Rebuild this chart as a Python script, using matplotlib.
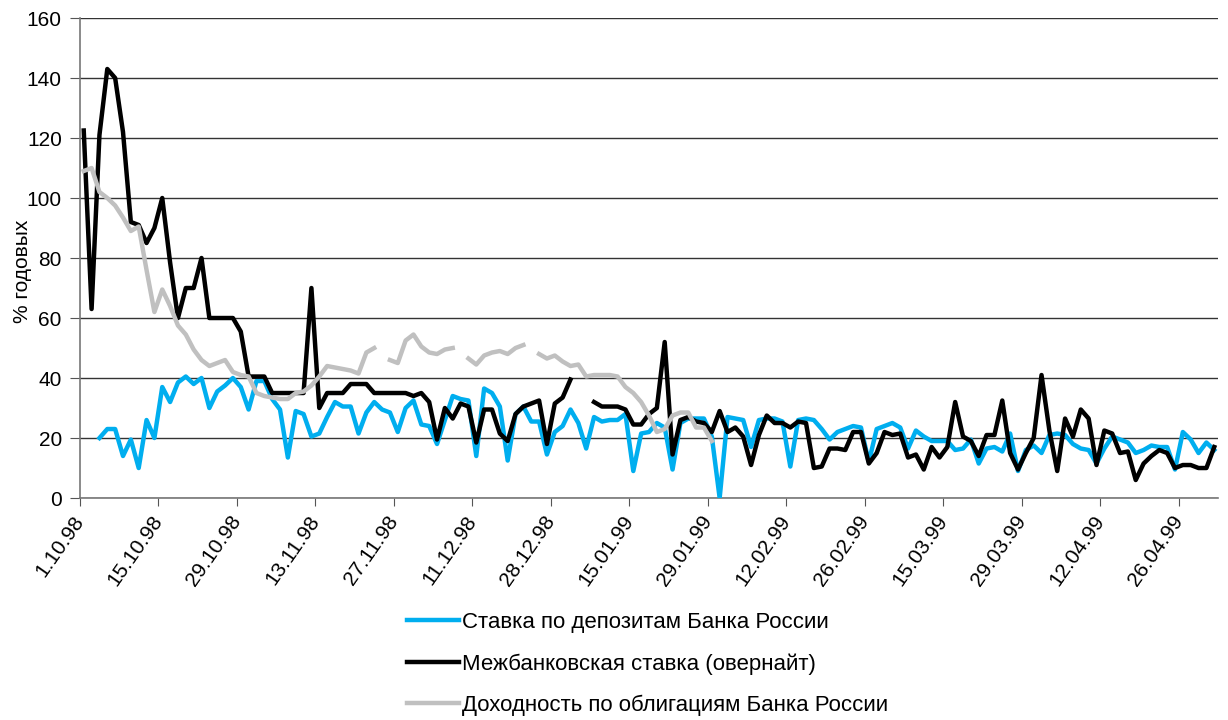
import numpy as np
import matplotlib
matplotlib.use('Agg')
import matplotlib.pyplot as plt

nan = np.nan

date_labels = ['1.10.98', '15.10.98', '29.10.98', '13.11.98', '27.11.98',
               '11.12.98', '28.12.98', '15.01.99', '29.01.99', '12.02.99',
               '26.02.99', '15.03.99', '29.03.99', '12.04.99', '26.04.99']

# ставка по депозитам Банка России
deposit = [nan, nan, 20, 23, 23, 14, 19.5, 10, 26, 20,
           37, 32, 38.5, 40.5, 38, 40, 30, 35.5, 37.5, 40,
           37, 29.5, 39, 39, 33, 29.5, 13.5, 29, 28, 20.5,
           21.5, 27, 32, 30.5, 30.5, 21.5, 28.5, 32, 29.5, 28.5,
           22, 30, 32.5, 24.5, 24, 18, 26, 34, 33, 32.5,
           14, 36.5, 35, 30.5, 12.5, 28, 30.5, 25.5, 25.5, 14.5,
           22, 24, 29.5, 25, 16.5, 27, 25.5, 26, 26, 28,
           9, 21.5, 22, 25, 23.5, 9.5, 25, 26.5, 26.5, 26.5,
           20.5, 0, 27, 26.5, 26, 17, 26, 26.5, 26.5, 25.5,
           10.5, 26, 26.5, 26, 23, 19.5, 22, 23, 24, 23.5,
           12, 23, 24, 25, 23.5, 16.5, 22.5, 20.5, 19, 19,
           19, 16, 16.5, 19.5, 11.5, 16.5, 17, 15.5, 21.5, 9,
           16, 17.5, 15, 21, 21.5, 21, 18, 16.5, 16, 11.5,
           16.5, 20.5, 19.5, 18.5, 15, 16, 17.5, 17, 17, 9.5,
           22, 19.5, 15, 18.5, 16]

# межбанковская ставка (овернайт)
overnight = [122.5, 63, 121, 143, 140, 122, 92, 91, 85, 90,
             100, 78.5, 60, 70, 70, 80, 60, 60, 60, 60,
             55.5, 40.5, 40.5, 40.5, 35, 35, 35, 35, 35, 70,
             30, 35, 35, 35, 38, 38, 38, 35, 35, 35,
             35, 35, 34, 35, 32, 19.5, 30, 26.5, 31.5, 30.5,
             18.5, 29.5, 29.5, 21.5, 19, 28, 30.5, 31.5, 32.5, 18,
             31.5, 33.5, 39.5, nan, nan, 32, 30.5, 30.5, 30.5, 29.5,
             24.5, 24.5, 28, 30, 52, 14.5, 26, 27, 25.5, 25,
             22, 29, 22, 23.5, 20.5, 11, 21, 27.5, 25, 25,
             23.5, 25.5, 25, 10, 10.5, 16.5, 16.5, 16, 22, 22,
             11.5, 15, 22, 21, 21.5, 13.5, 14.5, 9.5, 17, 13.5,
             17, 32, 20.5, 19, 14, 21, 21, 32.5, 15, 9.5,
             15, 20, 41, 22.5, 9, 26.5, 20.5, 29.5, 26.5, 11,
             22.5, 21.5, 15, 15.5, 6, 11.5, 14, 16, 15, 10,
             11, 11, 10, 10, 17]

# доходность по облигациям Банка России
bonds = [109, 110, 102, 100, 97.5, 93.5, 89, 90.5, 76, 62,
         69.5, 64, 57.5, 54.5, 49.5, 46, 44, 45, 46, 42,
         41, 40.5, 35, 34, 33.5, 33, 33, 35, 35.5, 37.5,
         40.5, 44, 43.5, 43, 42.5, 41.5, 48.5, 50, nan, 46,
         45, 52.5, 54.5, 50.5, 48.5, 48, 49.5, 50, nan, 46.5,
         44.5, 47.5, 48.5, 49, 48, 50, 51, nan, 48, 46.5,
         47.5, 45.5, 44, 44.5, 40.5, 41, 41, 41, 40.5, 37,
         35, 32, 27.5, 22, 23, 27.5, 28.5, 28.5, 23.5, 23.5,
         19] + [nan] * 64

plt.rcParams['font.family'] = ['Liberation Sans', 'DejaVu Sans']

x = np.arange(len(deposit))

fig = plt.figure(figsize=(12.28, 7.2), dpi=100)
ax = fig.add_axes([0.065, 0.3083, 0.927, 0.6667])

ax.plot(x, deposit, color='#00AEEF', lw=3.2, zorder=3,
        label='Ставка по депозитам Банка России')
ax.plot(x, overnight, color='black', lw=3.2, zorder=4,
        label='Межбанковская ставка (овернайт)')
ax.plot(x, bonds, color='#C0C0C0', lw=3.2, zorder=5,
        label='Доходность по облигациям Банка России')

ax.set_xlim(-0.5, len(deposit) - 0.5)
ax.set_ylim(0, 160)
ax.set_yticks(np.arange(0, 161, 20))
ax.yaxis.grid(True, color='#333333', lw=1.0)
ax.set_axisbelow(True)

ax.set_xticks(np.arange(0, 150, 10) - 0.5)
ax.set_xticklabels(date_labels, rotation=55, ha='right',
                   rotation_mode='anchor', va='center')
ax.tick_params(axis='x', length=6, color='#555555', labelsize=15, pad=8)
ax.tick_params(axis='y', length=7, color='#555555', labelsize=15,
               direction='out', pad=6)

for side in ['top', 'right']:
    ax.spines[side].set_visible(False)
for side in ['left', 'bottom']:
    ax.spines[side].set_color('#777777')
    ax.spines[side].set_linewidth(1.2)

ax.set_ylabel('% годовых', fontsize=15)
ax.yaxis.set_label_coords(-0.042, 0.473)

fig.legend(loc='upper left', bbox_to_anchor=(0.324, 0.162),
           frameon=False, fontsize=16, handlelength=2.35,
           handletextpad=0.14, labelspacing=0.9, borderaxespad=0)

fig.savefig('out.png', dpi=100)
